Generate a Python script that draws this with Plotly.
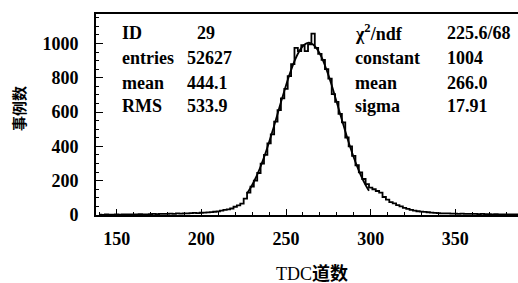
import plotly.graph_objects as go

# Histogram (TDC channel, 2-channel bins): bin centres and counts
bin_x = list(range(140, 392, 2))
counts = [2, 1, 3, 2, 2, 3, 2, 4, 3, 3,
          4, 3, 5, 4, 4, 5, 6, 5, 6, 7,
          6, 8, 7, 9, 8, 10, 9, 11, 12, 11,
          13, 14, 15, 17, 19, 21, 26, 30, 33, 38,
          48, 56, 66, 95, 130, 165, 200, 245, 300, 350,
          418, 470, 545, 612, 680, 735, 810, 880, 975, 955,
          990, 955, 995, 1058, 975, 940, 905, 850, 795, 705,
          660, 590, 540, 452, 400, 345, 290, 248, 210, 180,
          160, 150, 140, 130, 105, 90, 75, 68, 58, 50,
          42, 36, 30, 26, 22, 20, 18, 16, 14, 12,
          11, 10, 9, 9, 8, 8, 7, 8, 7, 6,
          6, 7, 5, 6, 5, 5, 4, 5, 4, 4,
          4, 3, 4, 3, 3, 3]

# Gaussian fit curve points
fit_x = list(range(227, 301, 2))
fit_y = [126, 157, 194, 236, 283, 336, 394, 456, 521, 589,
         657, 723, 787, 845, 897, 940, 973, 994, 1004, 1000,
         985, 958, 920, 872, 817, 756, 690, 623, 555, 489,
         424, 364, 309, 259, 214, 175, 141]

# Statistics boxes
stat_labels = ["ID", "entries", "mean", "RMS"]
stat_values = ["29", "52627", "444.1", "533.9"]
fit_labels = ["χ<sup>2</sup>/ndf", "constant", "mean", "sigma"]
fit_values = ["225.6/68", "1004", "266.0", "17.91"]

x_ticks = [150, 200, 250, 300, 350]
y_ticks = [0, 200, 400, 600, 800, 1000]

SERIF = "Liberation Serif"
CJK = "Noto Sans CJK SC"

fig = go.Figure()
fig.add_trace(go.Scatter(x=bin_x, y=counts, mode="lines", line_shape="hvh",
                         line=dict(color="black", width=1.8), showlegend=False))
fig.add_trace(go.Scatter(x=fit_x, y=fit_y, mode="lines", line_shape="spline",
                         line=dict(color="black", width=1.8), showlegend=False))

row_y = [0.9055, 0.781, 0.657, 0.542]
ann = []
for i in range(4):
    ann.append(dict(x=0.0569, y=row_y[i], text=stat_labels[i]))
    ann.append(dict(x=0.2346 if i == 0 else 0.2109, y=row_y[i], text=stat_values[i]))
    ann.append(dict(x=0.609, y=row_y[i], text=fit_labels[i]))
    ann.append(dict(x=0.827, y=row_y[i], text=fit_values[i]))
for a in ann:
    a.update(xref="paper", yref="paper", xanchor="left", yanchor="middle",
             showarrow=False, font=dict(family=SERIF, size=18, color="black", weight="bold"))

ann.append(dict(x=0.512, y=-0.29, xref="paper", yref="paper", showarrow=False,
                xanchor="center", yanchor="middle", text="TDC<b>道数</b>",
                font=dict(family=SERIF + ", " + CJK, size=18, color="black")))
ann.append(dict(x=-0.185, y=0.532, xref="paper", yref="paper", showarrow=False,
                xanchor="center", yanchor="middle", text="事例数", textangle=-90,
                font=dict(family=CJK, size=15, color="black", weight="bold")))

fig.update_layout(
    width=518, height=283,
    margin=dict(l=96, r=0, t=14, b=68),
    paper_bgcolor="white", plot_bgcolor="white",
    annotations=ann,
    xaxis=dict(range=[137.8, 387], showgrid=False, zeroline=False,
               showline=True, linecolor="black", linewidth=2, mirror=True,
               ticks="inside", tickvals=x_ticks, ticklen=6, tickwidth=1.2, tickcolor="black",
               minor=dict(dtick=10, tick0=0, ticks="inside", ticklen=3, tickcolor="black", tickwidth=1),
               tickfont=dict(family=SERIF, size=18, color="black", weight="bold"), ticklabelstandoff=6),
    yaxis=dict(range=[0, 1172], showgrid=False, zeroline=False,
               showline=True, linecolor="black", linewidth=2, mirror=False,
               ticks="inside", tickvals=y_ticks, ticklen=7, tickwidth=1.2, tickcolor="black",
               minor=dict(dtick=50, tick0=0, ticks="inside", ticklen=3, tickcolor="black", tickwidth=1),
               tickfont=dict(family=SERIF, size=18, color="black", weight="bold"), ticklabelstandoff=12),
)

fig.write_html("out.html", config={"displayModeBar": False},
               post_script="document.body.style.margin='0';document.body.style.overflow='hidden';")
